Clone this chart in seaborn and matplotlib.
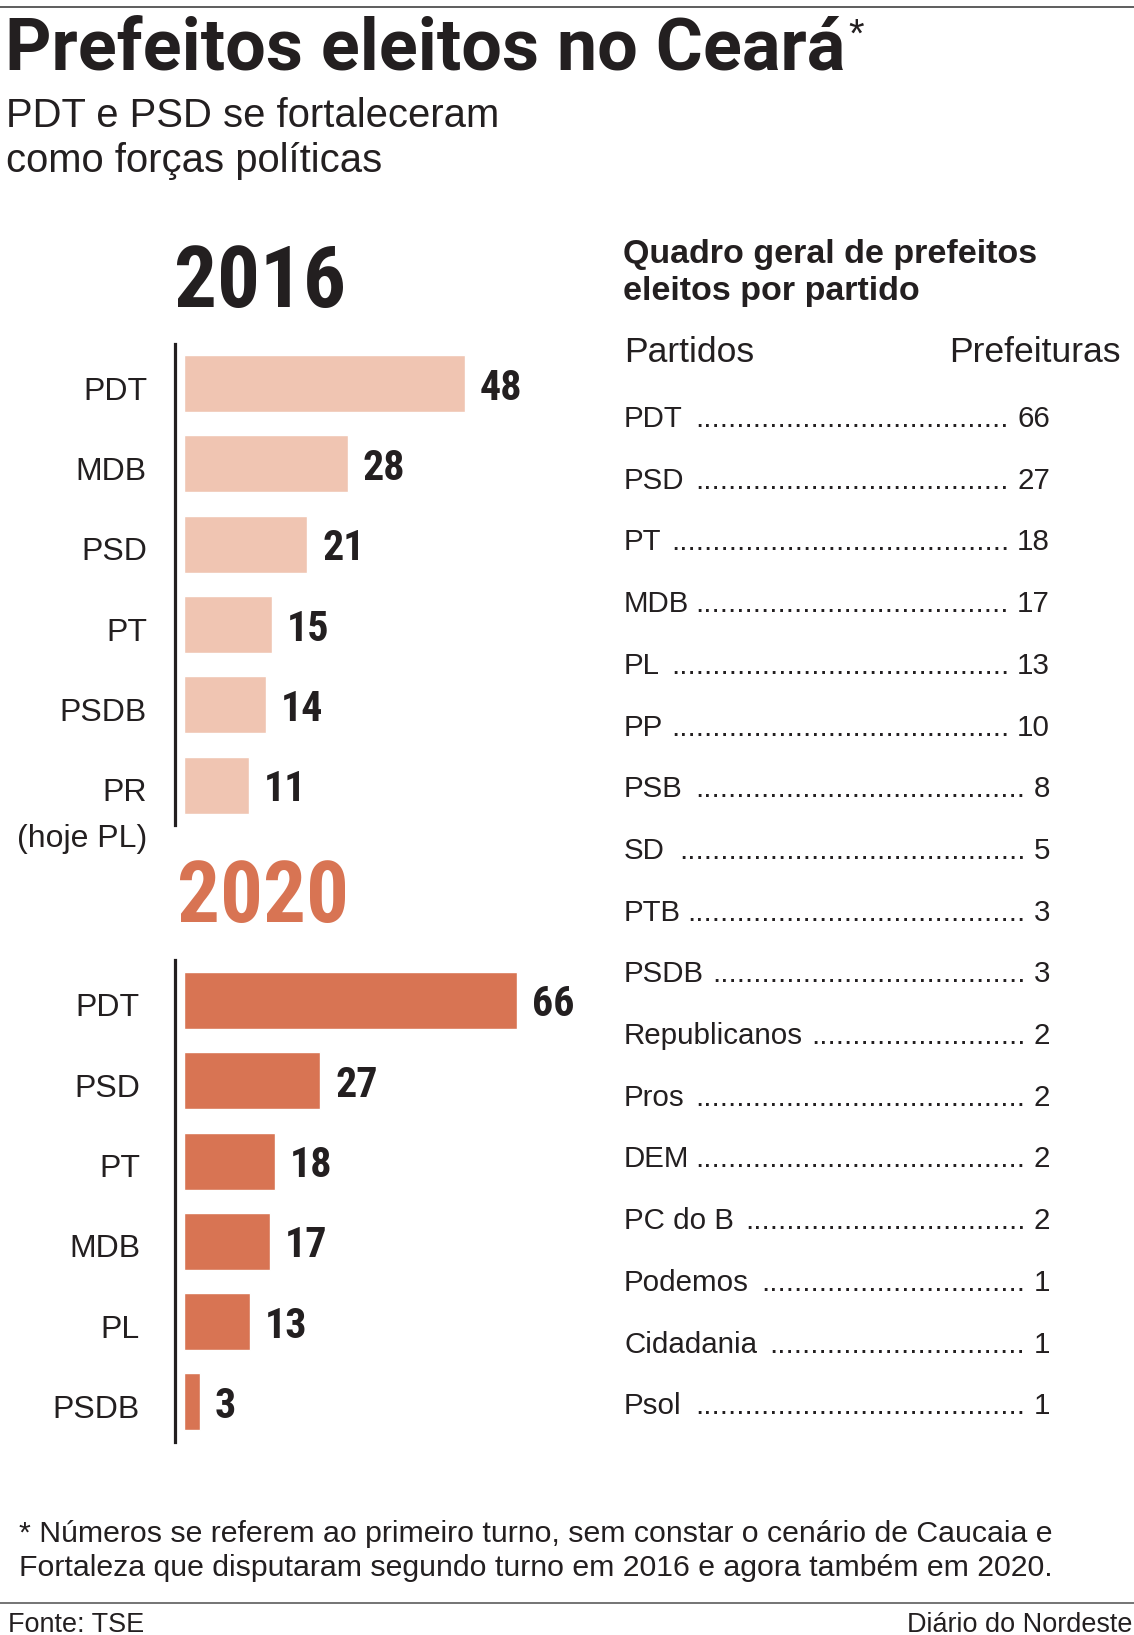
import matplotlib
matplotlib.use('Agg')
import seaborn as sns
from matplotlib import pyplot as plt

W_PX, H_PX = 1134, 1635
DPI = 100

INK = '#231f20'
LIGHT = '#f0c5b2'
ORANGE = '#d87453'

REGULAR = ['Liberation Sans', 'DejaVu Sans']
BOLD = ['Roboto', 'DejaVu Sans']
NARROW = ['Roboto Condensed', 'Roboto', 'DejaVu Sans']

parties_2016 = ['PDT', 'MDB', 'PSD', 'PT', 'PSDB', 'PR\n(hoje PL)']
seats_2016 = [48, 28, 21, 15, 14, 11]
parties_2020 = ['PDT', 'PSD', 'PT', 'MDB', 'PL', 'PSDB']
seats_2020 = [66, 27, 18, 17, 13, 3]

table_parties = ['PDT', 'PSD', 'PT', 'MDB', 'PL', 'PP', 'PSB', 'SD', 'PTB',
                 'PSDB', 'Republicanos', 'Pros', 'DEM', 'PC do B', 'Podemos',
                 'Cidadania', 'Psol']
table_seats = [66, 27, 18, 17, 13, 10, 8, 5, 3, 3, 2, 2, 2, 2, 1, 1, 1]

title = 'Prefeitos eleitos no Ceará'
subtitle = ['PDT e PSD se fortaleceram', 'como forças políticas']
table_title = ['Quadro geral de prefeitos', 'eleitos por partido']
table_cols = ['Partidos', 'Prefeituras']
footnote = ['* Números se referem ao primeiro turno, sem constar o cenário de Caucaia e',
            'Fortaleza que disputaram segundo turno em 2016 e agora também em 2020.']
source = 'Fonte: TSE'
credit = 'Diário do Nordeste'


def fx(x):
    return x / W_PX


def fy(y):
    return 1 - y / H_PX


def pt(px):
    return px * 72 / DPI


sns.set_theme(style='white')
plt.rcParams['font.family'] = REGULAR
plt.rcParams['text.color'] = INK

fig = plt.figure(figsize=(W_PX / DPI, H_PX / DPI), dpi=DPI)
fig.patch.set_facecolor('white')
renderer = fig.canvas.get_renderer()


def bar_panel(top, parties, seats, color, px_per_unit, label_pad):
    """Horizontal bar block with a thick left rule and labels on both sides."""
    pitch = 80.3
    height = pitch * len(parties)
    ax_w = 430
    ax = fig.add_axes([fx(175), fy(top + height), fx(ax_w), height / H_PX])
    sns.barplot(x=seats, y=parties, orient='h', color=color, saturation=1,
                width=0.71, errorbar=None, ax=ax)
    left = -9.4 / px_per_unit
    ax.set_xlim(left, left + ax_w / px_per_unit)
    ax.set_ylim(len(parties) - 0.5, -0.5)
    ax.patch.set_alpha(0)
    sns.despine(ax=ax, top=True, right=True, bottom=True)
    ax.spines['left'].set_color(INK)
    ax.spines['left'].set_linewidth(pt(3.2))
    ax.set(xticks=[], yticks=[], xlabel='', ylabel='')

    # party names, right aligned against the rule (extra lines hang below)
    for i, name in enumerate(parties):
        extra = name.count('\n')
        ax.annotate(name, xy=(0, i), xycoords=('axes fraction', 'data'),
                    xytext=(-pt(label_pad), -pt(16 + 46 * extra)),
                    textcoords='offset points', ha='right', va='baseline',
                    multialignment='right', linespacing=1.7,
                    fontsize=pt(32), family=REGULAR, color=INK)

    texts = ax.bar_label(ax.containers[0], labels=[str(v) for v in seats],
                         padding=pt(15), fontsize=pt(42), fontweight='bold',
                         family=NARROW, color=INK)
    for t in texts:
        t.set_va('center_baseline')
    return ax


# top rule
fig.add_artist(plt.Line2D([0, 1], [fy(7.5)] * 2, transform=fig.transFigure,
                          color='#3a3a3a', lw=pt(1.6)))

# headline
t_title = fig.text(fx(5), fy(70), title, fontsize=pt(72), fontweight='bold',
                   family=BOLD, va='baseline')
x_end = t_title.get_window_extent(renderer).x1
fig.text((x_end + 3) / W_PX, fy(47), '*', fontsize=pt(40), family=REGULAR,
         va='baseline')
for i, line in enumerate(subtitle):
    fig.text(fx(6), fy(127 + i * 45), line, fontsize=pt(40), family=REGULAR,
             va='baseline')

# year headings
fig.text(fx(174), fy(307), '2016', fontsize=pt(85), fontweight='bold',
         family=NARROW, va='baseline', color=INK)
fig.text(fx(177), fy(922), '2020', fontsize=pt(85), fontweight='bold',
         family=NARROW, va='baseline', color=ORANGE)

bar_panel(343.5, parties_2016, seats_2016, LIGHT, 5.84, 28)
bar_panel(960.3, parties_2020, seats_2020, ORANGE, 5.04, 35)

# table on the right
for i, line in enumerate(table_title):
    fig.text(fx(623), fy(263 + i * 37), line, fontsize=pt(34),
             fontweight='bold', family=REGULAR, va='baseline')
fig.text(fx(624), fy(362), table_cols[0], fontsize=pt(35.5), family=REGULAR,
         va='baseline')
fig.text(fx(1121), fy(362), table_cols[1], fontsize=pt(35.5), family=REGULAR,
         va='baseline', ha='right')

row_size = pt(29.5)
probe = fig.text(0, 0, '.' * 40, fontsize=row_size, family=REGULAR)
dot_w = probe.get_window_extent(renderer).width / 40
probe.remove()

x_name, x_num = 624, 1050
for i, (name, n) in enumerate(zip(table_parties, table_seats)):
    y = 427 + i * 61.7
    tn = fig.text(fx(x_name), fy(y), name, fontsize=row_size, family=REGULAR,
                  va='baseline')
    tv = fig.text(fx(x_num), fy(y), str(n), fontsize=row_size, family=REGULAR,
                  va='baseline', ha='right')
    name_r = tn.get_window_extent(renderer).x1
    num_l = tv.get_window_extent(renderer).x0
    dots_r = num_l - 8
    k = int((dots_r - name_r - 6) / dot_w)
    fig.text(dots_r / W_PX, fy(y), '.' * k, fontsize=row_size,
             family=REGULAR, va='baseline', ha='right')

# footnote and credits
for i, line in enumerate(footnote):
    fig.text(fx(19), fy(1542 + i * 34), line, fontsize=pt(30.3),
             family=REGULAR, va='baseline')
fig.add_artist(plt.Line2D([0, 1], [fy(1603)] * 2, transform=fig.transFigure,
                          color='#777777', lw=pt(2)))
fig.text(fx(8), fy(1632), source, fontsize=pt(27), family=REGULAR,
         va='baseline')
fig.text(fx(1132), fy(1632), credit, fontsize=pt(27), family=REGULAR,
         va='baseline', ha='right')

fig.savefig('out.png', dpi=DPI, facecolor='white')
